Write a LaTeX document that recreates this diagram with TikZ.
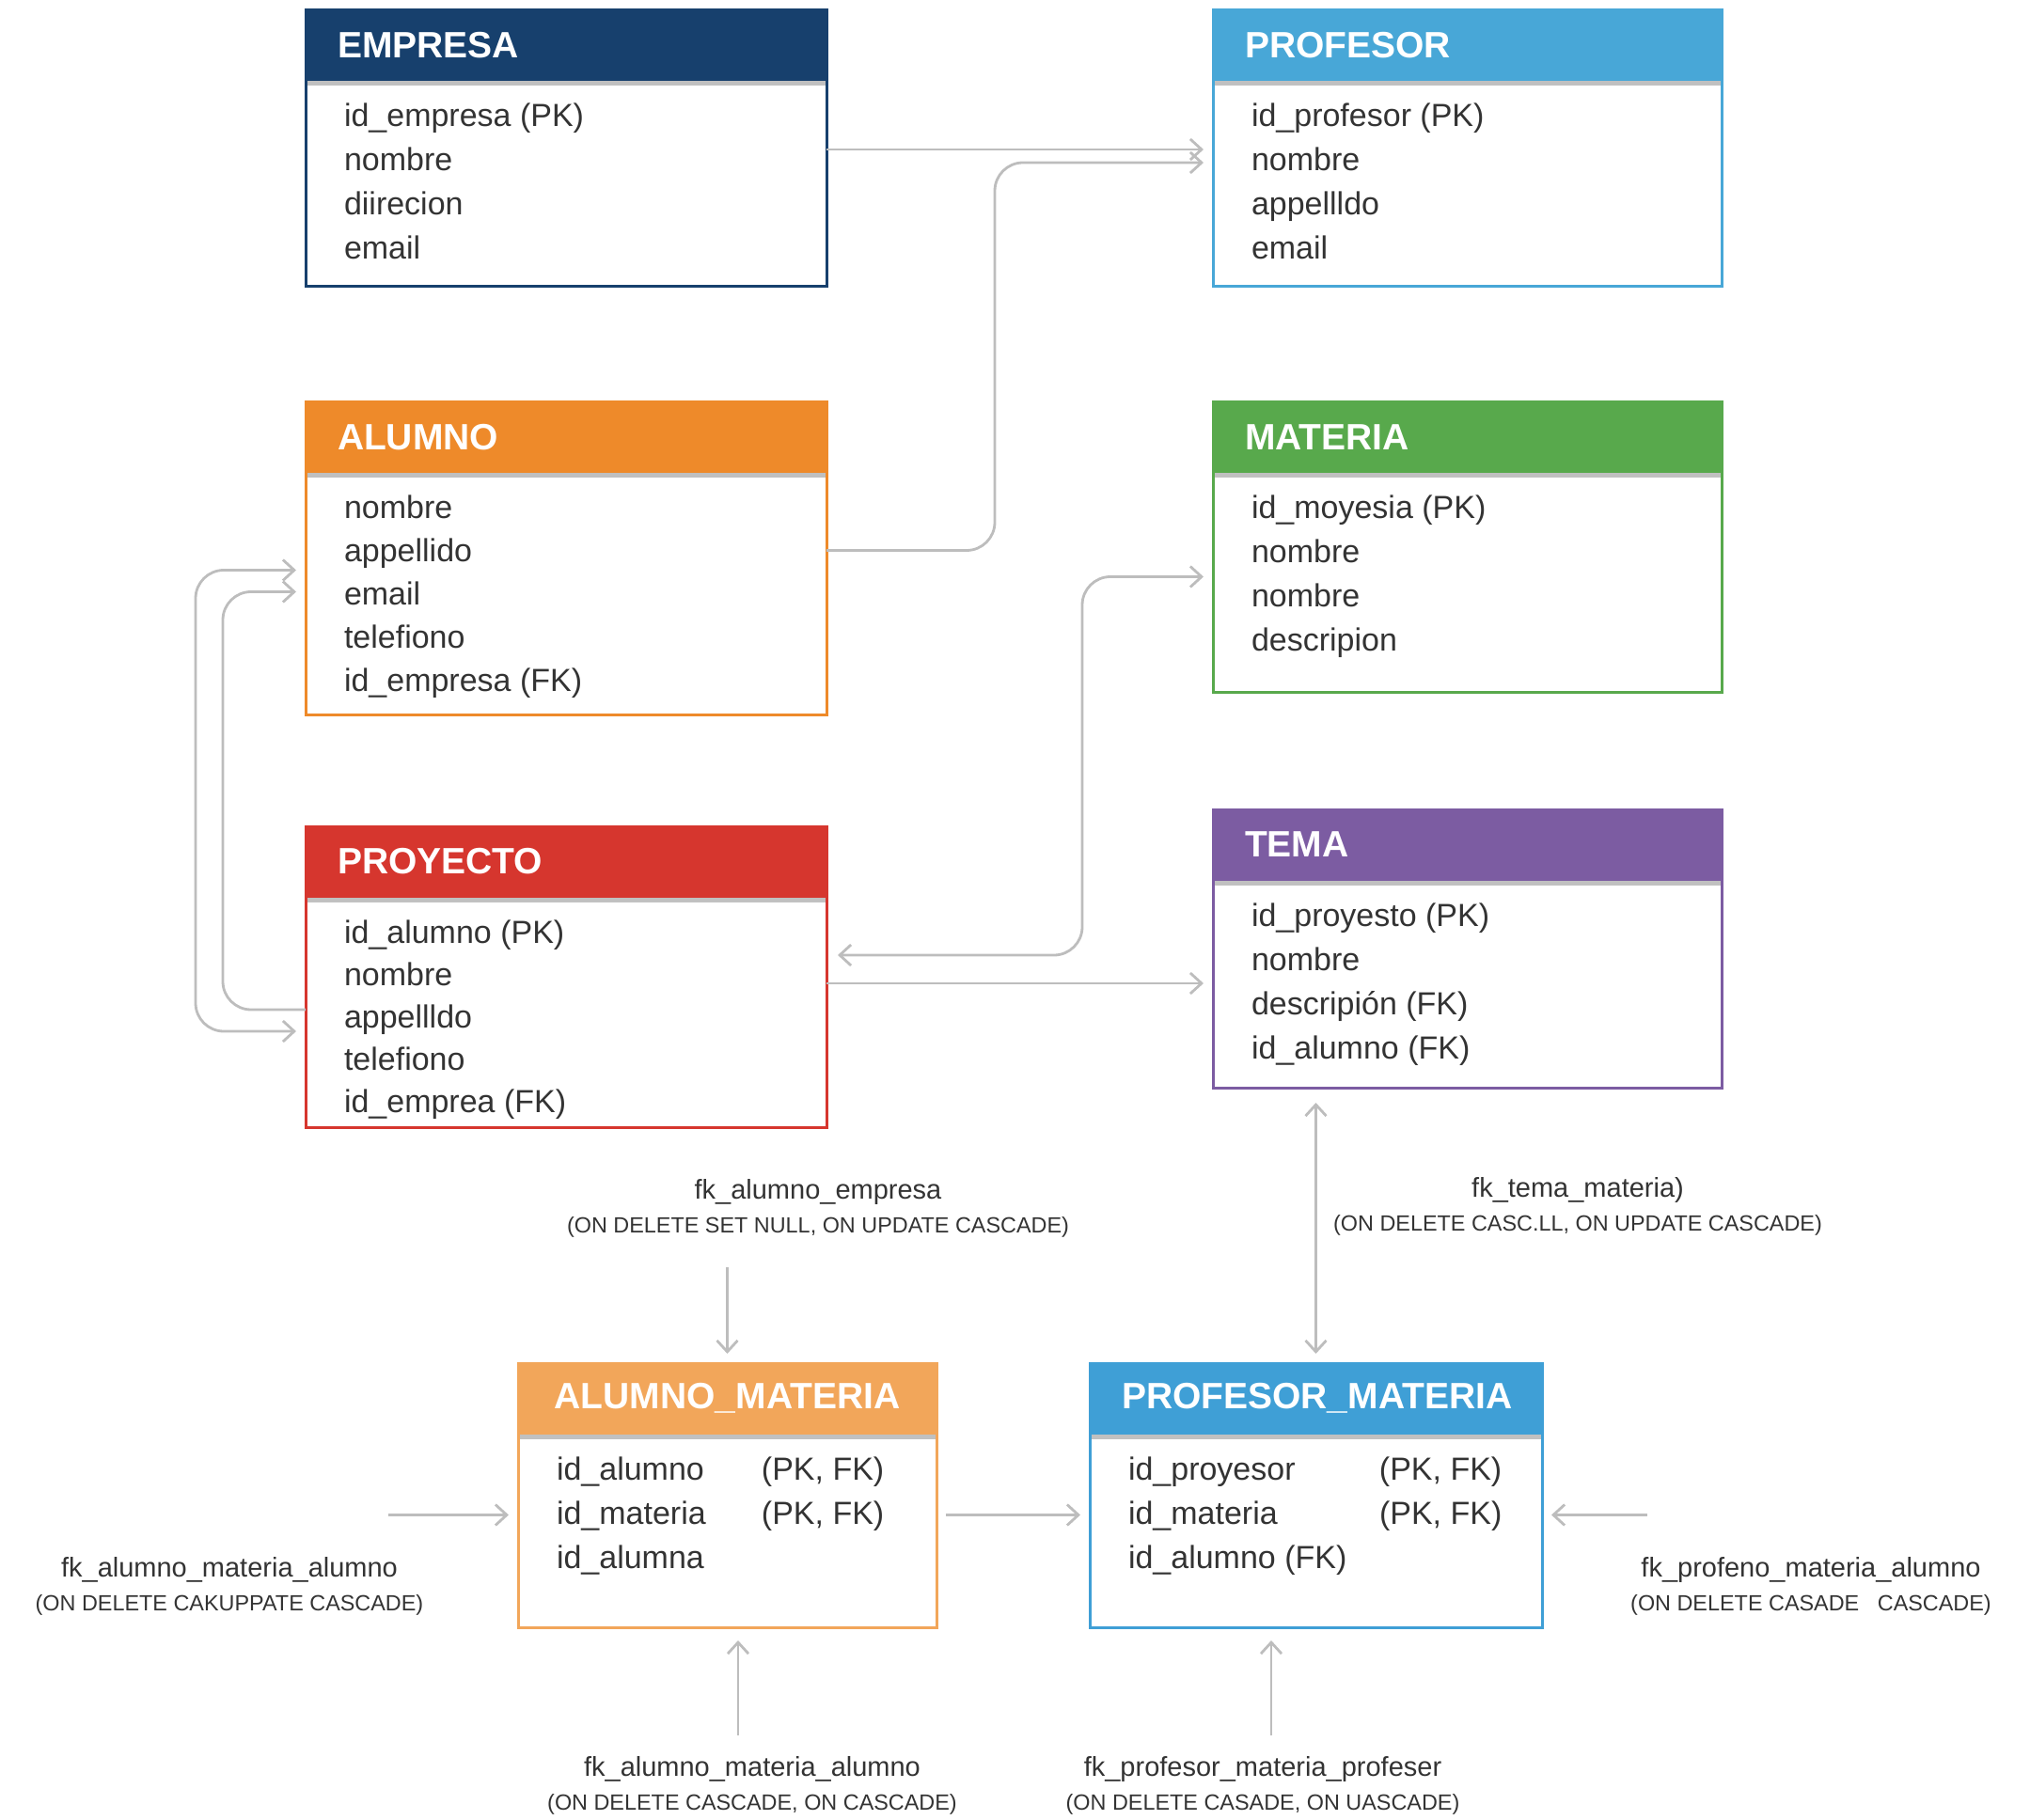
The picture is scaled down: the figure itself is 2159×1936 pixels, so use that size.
\documentclass[tikz,border=0pt]{standalone}
\usepackage{fontspec}
\setmainfont{Liberation Sans}
\usetikzlibrary{positioning,arrows.meta}

\definecolor{cEmpresa}{HTML}{17406D}
\definecolor{cProfesor}{HTML}{48A7D7}
\definecolor{cAlumno}{HTML}{EE8A2A}
\definecolor{cMateria}{HTML}{58A94C}
\definecolor{cProyecto}{HTML}{D6362E}
\definecolor{cTema}{HTML}{7C5CA2}
\definecolor{cAluMat}{HTML}{F2A65A}
\definecolor{cProfMat}{HTML}{3F9FD6}
\definecolor{cLine}{HTML}{BDBDBD}
\definecolor{cText}{HTML}{333333}

\newcommand{\headfont}{\fontsize{19.5}{23}\selectfont\bfseries}
\newcommand{\bodyfont}{\fontsize{17}{23.5}\selectfont}
\newcommand{\fieldrows}[2]{\makebox[#1][l]{\begin{tabular}[t]{@{}l@{}}#2\end{tabular}}}
\newcommand{\fktop}[1]{{\fontsize{14.5}{18}\selectfont #1}}

\tikzset{
	tablehead/.style 2 args={fill=#1, draw=#1, line width=1.5pt, outer sep=0pt,
		anchor=north west, minimum height=37pt, inner xsep=17pt, inner ysep=0pt,
		text width=#2, align=left, text=white, font=\headfont},
	fieldbox/.style 2 args={draw=#1, line width=1.5pt, outer sep=0pt,
		inner xsep=20.5pt, inner ysep=0pt, text height=25pt, text depth=#2,
		text=cText, font=\bodyfont,
		path picture={\shade[top color=black!25, bottom color=white]
			(path picture bounding box.north west) rectangle
			([yshift=-3pt]path picture bounding box.north east);}},
	fk/.style={draw=cLine, line width=1.4pt, rounded corners=15pt},
	fknote/.style={align=center, inner sep=0pt, text=cText, font=\fontsize{11.7}{18}\selectfont},
}

\begin{document}
\begin{tikzpicture}[x=0.5pt, y=-0.5pt, >={Straight Barb[length=6pt,width=11pt]}]
\useasboundingbox (0,0) rectangle (2159,1936);

\node(empresa_h)	[tablehead={cEmpresa}{243pt}] at (325,11)	{EMPRESA};
\node(empresa)	[fieldbox={cEmpresa}{85pt}, below=0pt of empresa_h]
	{\fieldrows{236pt}{id\_empresa (PK)\\nombre\\diirecion\\email}};

\node(profesor_h)	[tablehead={cProfesor}{236.5pt}] at (1290,11)	{PROFESOR};
\node(profesor)	[fieldbox={cProfesor}{85pt}, below=0pt of profesor_h]
	{\fieldrows{229.5pt}{id\_profesor (PK)\\nombre\\appellldo\\email}};

\node(alumno_h)	[tablehead={cAlumno}{243pt}] at (325,428)	{ALUMNO};
\node(alumno)	[fieldbox={cAlumno}{104.5pt}, below=0pt of alumno_h,
	font=\fontsize{17}{23}\selectfont]
	{\fieldrows{236pt}{nombre\\appellido\\email\\telefiono\\id\_empresa (FK)}};

\node(materia_h)	[tablehead={cMateria}{236.5pt}] at (1290,428)	{MATERIA};
\node(materia)	[fieldbox={cMateria}{92.5pt}, below=0pt of materia_h]
	{\fieldrows{229.5pt}{id\_moyesia (PK)\\nombre\\nombre\\descripion}};

\node(proyecto_h)	[tablehead={cProyecto}{243pt}] at (325,879)	{PROYECTO};
\node(proyecto)	[fieldbox={cProyecto}{98pt}, below=0pt of proyecto_h,
	font=\fontsize{17}{22.5}\selectfont]
	{\fieldrows{236pt}{id\_alumno (PK)\\nombre\\appellldo\\telefiono\\id\_emprea (FK)}};

\node(tema_h)	[tablehead={cTema}{236.5pt}] at (1290,861)	{TEMA};
\node(tema)	[fieldbox={cTema}{86pt}, below=0pt of tema_h]
	{\fieldrows{229.5pt}{id\_proyesto (PK)\\nombre\\descripión (FK)\\id\_alumno (FK)}};

\node(am_h)	[tablehead={cAluMat}{188.5pt}, align=center] at (551,1450)	{ALUMNO\_MATERIA};
\node(am)	[fieldbox={cAluMat}{78.5pt}, below=0pt of am_h]
	{\fieldrows{181.5pt}{\makebox[109pt][l]{id\_alumno}(PK, FK)\\
	\makebox[109pt][l]{id\_materia}(PK, FK)\\id\_alumna}};

\node(pm_h)	[tablehead={cProfMat}{206.5pt}, align=center] at (1159,1450)	{PROFESOR\_MATERIA};
\node(pm)	[fieldbox={cProfMat}{78.5pt}, below=0pt of pm_h]
	{\fieldrows{199.5pt}{\makebox[133.5pt][l]{id\_proyesor}(PK, FK)\\
	\makebox[133.5pt][l]{id\_materia}(PK, FK)\\id\_alumno (FK)}};

% foreign key notes
\node(fk_al_em)	[fknote] at (870,1285)
	{\fktop{fk\_alumno\_empresa}\\(ON DELETE SET NULL, ON UPDATE CASCADE)};
\node(fk_te_ma)	[fknote] at (1678,1283)
	{\fktop{fk\_tema\_materia)}\\(ON DELETE CASC.LL, ON UPDATE CASCADE)};
\node(fk_am_l)	[fknote] at (244,1687)
	{\fktop{fk\_alumno\_materia\_alumno}\\(ON DELETE CAKUPPATE CASCADE)};
\node(fk_pm_r)	[fknote] at (1926,1687)
	{\fktop{fk\_profeno\_materia\_alumno}\\(ON DELETE CASADE\ \ \ CASCADE)};
\node(fk_am_b)	[fknote] at (800,1899)
	{\fktop{fk\_alumno\_materia\_alumno}\\(ON DELETE CASCADE, ON CASCADE)};
\node(fk_pm_b)	[fknote] at (1343,1899)
	{\fktop{fk\_profesor\_materia\_profeser}\\(ON DELETE CASADE, ON UASCADE)};

% connectors
\draw [fk,->,shorten >=5pt] ([yshift=18pt]empresa.east) -- ([yshift=18pt]profesor.west);
\draw [fk,->,shorten >=5pt] ([yshift=23pt]alumno.east) -- ++(179,0) |- ([yshift=11pt]profesor.west);
\draw [fk,<->,shorten <=6pt,shorten >=5pt] ([yshift=30pt]proyecto.east) -- ++(272,0) |- ([yshift=3pt]materia.west);
\draw [fk,->,shorten >=5pt] (tema.west -| proyecto.east) -- (tema.west);

\draw [fk,<->,shorten <=5pt,shorten >=5pt] ([yshift=12.5pt]alumno.west) -- ++(-117,0) |- ([yshift=-10.5pt]proyecto.west);
\draw [fk,->,shorten >=5pt] ([yshift=1pt]proyecto.west) -- ++(-88,0) |- ([yshift=1pt]alumno.west);

\draw [fk,->,shorten <=16pt,shorten >=5pt] (fk_al_em.south -| am_h.north) -- (am_h.north);
\draw [fk,<->,shorten <=8pt,shorten >=5pt] (pm_h.north |- tema.south) -- (pm_h.north);

\draw [fk,->,shorten >=5pt] ([xshift=-69pt,yshift=8pt]am.west) -- ([yshift=8pt]am.west);
\draw [fk,->,shorten <=5pt,shorten >=5pt] ([yshift=8pt]am.east) -- ([yshift=8pt]pm.west);
\draw [fk,->,shorten >=5pt] ([xshift=56pt,yshift=8pt]pm.east) -- ([yshift=8pt]pm.east);

\draw [fk,->,shorten <=11pt,shorten >=7pt] ([xshift=-7.5pt]fk_am_b.north) -- ([xshift=-7.5pt]fk_am_b.north |- am.south);
\draw [fk,->,shorten <=11pt,shorten >=7pt] ([xshift=4.5pt]fk_pm_b.north) -- ([xshift=4.5pt]fk_pm_b.north |- pm.south);

\end{tikzpicture}
\end{document}
